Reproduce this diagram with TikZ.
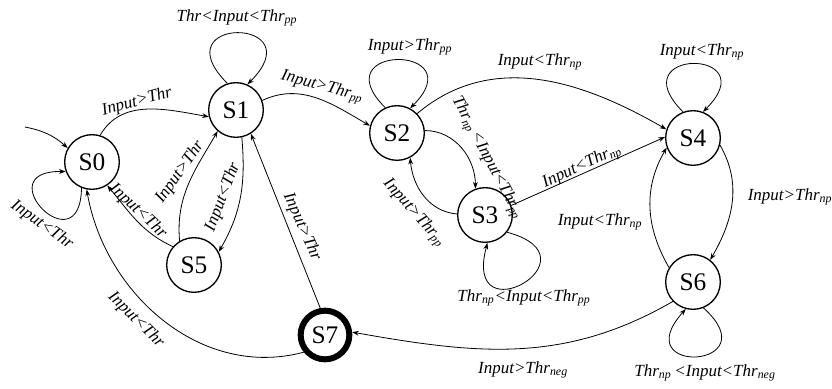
\documentclass[tikz,border=0pt]{standalone}
\usepackage{fontspec}
\setmainfont{Liberation Serif}
\usetikzlibrary{arrows.meta}

\newcommand\Thr[1]{Thr\textsubscript{#1}}

\tikzset{
  state/.style={circle,draw,line width=1pt,minimum size=41pt,inner sep=0pt,
                font=\fontsize{19}{19}\selectfont},
  final/.style={state,line width=4.5pt,minimum size=36.5pt},
  cond/.style={font=\itshape\fontsize{12.75}{14}\selectfont,inner sep=1pt},
  self/.style={looseness=1,min distance=#1},
  self/.default=72pt,
}

\begin{document}
\begin{tikzpicture}[x=0.75pt,y=0.75pt,line width=0.6pt,
                    >={Stealth[length=5pt,width=3.6pt]}]
\useasboundingbox (0,0) rectangle (832,389);

\node[state] (s0) at ( 92,227) {S0};
\node[state] (s1) at (236,279) {S1};
\node[state] (s2) at (397,256) {S2};
\node[state] (s3) at (485,174) {S3};
\node[state] (s4) at (693,251) {S4};
\node[state] (s5) at (194,124) {S5};
\node[state] (s6) at (693,107) {S6};
\node[final] (s7) at (325, 54) {S7};
\coordinate  (start) at (25,262);

\draw[->] (start)  to[bend left=15]            (s0.150);
\draw[->] (s0.248) to[self=60pt,out=269,in=179] (s0.200);
\draw[->] (s0.73)  to[out=60,in=170]           (s1.194);
\draw[->] (s1.108) to[self,out=135,in=45]      (s1.66);
\draw[->] (s1.20)  to[out=25,in=150]           (s2.165);
\draw[->] (s2.115) to[self=68pt,out=135,in=45] (s2.62);
\draw[->] (s2.44)  to[out=40,in=150]           (s4.162);
\draw[->] (s2.5)   to[out=0,in=90]             (s3.110);
\draw[->] (s3.178) to[out=175,in=275]          (s2.-62);
\draw[->] (s3.20)  --                          (s4.178);
\draw[->] (s3.-38) to[self=74pt,out=-15,in=-105] (s3.-85);
\draw[->] (s4.111) to[self=68pt,out=135,in=45] (s4.69);
\draw[->] (s4.-15) to[out=-60,in=60]           (s6.52);
\draw[->] (s6.149) to[out=120,in=240]          (s4.200);
\draw[->] (s6.-68) to[self=68pt,out=-42,in=-132] (s6.-105);
\draw[->] (s6.224) to[out=210,in=-10]          (s7.6);
\draw[->] (s7.100) --                          (s1.-58);
\draw[->] (s7.219) to[out=195,in=280]          (s0.259);
\draw[->] (s1.-78) to[out=-85,in=60]           (s5.28);
\draw[->] (s5.121) to[out=95,in=240]           (s1.229);
\draw[->] (s5.139) to[out=155,in=-50]          (s0.-57);

\path
    ( 42,164) node[cond,rotate=-35] (l00) {Input<Thr}
    (137,287) node[cond,rotate=15]  (l01) {Input>Thr}
    (237,371) node[cond]            (l11) {Thr<Input<\Thr{pp}}
    (322,302) node[cond,rotate=-15] (l12) {Input>\Thr{pp}}
    (410,342) node[cond]            (l22) {Input>\Thr{pp}}
    (540,327) node[cond]            (l24) {Input<\Thr{np}}
    (487,231) node[cond,rotate=-62] (l23) {\Thr{np}\,<Input<\Thr{pp}}
    (414,176) node[cond,rotate=-48] (l32) {Input>\Thr{pp}}
    (582,222) node[cond,rotate=25]  (l34) {Input<\Thr{np}}
    (524, 91) node[cond]            (l33) {\Thr{np}<Input<\Thr{pp}}
    (702,337) node[cond]            (l44) {Input<\Thr{np}}
    (790,192) node[cond]            (l46) {Input>\Thr{np}}
    (600,167) node[cond]            (l64) {Input<\Thr{np}}
    (705, 16) node[cond]            (l66) {\Thr{np}\,<Input<\Thr{neg}}
    (523, 19) node[cond]            (l67) {Input>\Thr{neg}}
    (302,162) node[cond,rotate=-66] (l71) {Input>Thr}
    (136, 69) node[cond,rotate=-45] (l70) {Input<Thr}
    (223,192) node[cond,rotate=69]  (l15) {Input<Thr}
    (180,217) node[cond,rotate=55]  (l51) {Input>Thr}
    (138,178) node[cond,rotate=-43] (l50) {Input<Thr};
\end{tikzpicture}
\end{document}
